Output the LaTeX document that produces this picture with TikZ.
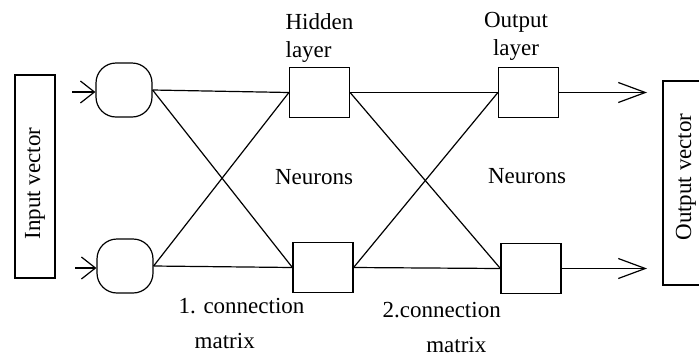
\documentclass[tikz,border=0pt]{standalone}
\usepackage{fontspec}
\setmainfont{Liberation Serif}
\usepackage{tikz}
\usetikzlibrary{arrows.meta}
\tikzstyle{neuron}=[
	 rectangle, draw,
	 minimum width=30pt, minimum height=25pt,
	 inner sep=0pt
    ]
\tikzstyle{inp}=[
	 rectangle, draw, rounded corners=10pt,
	 minimum width=28pt, minimum height=27pt
    ]
\tikzstyle{vec}=[rectangle, draw, rotate=90, inner sep=0pt, font=\fontsize{11.5}{14}\selectfont]
\tikzstyle{lbl}=[inner sep=0pt, font=\fontsize{11.5}{14}\selectfont]
\tikzstyle{inarr}=[-{Straight Barb[length=7pt,width=11pt]}]
\tikzstyle{outarr}=[-{Straight Barb[length=13.5pt,width=10pt]}]
\newcommand{\pEW}[2]{\draw (#1.east) -- (#2.west)}

\begin{document}
\begin{tikzpicture}[x=0.5pt,y=-0.5pt,line width=0.6pt]

\clip (0,0) rectangle (699,354);

\node[vec,minimum width=101.5pt,minimum height=20pt] (IV) at (35,176.5) {Input vector\hspace*{7pt}};
\node[vec,minimum width=102pt,minimum height=23pt] (OV) at (686,183) {\hspace*{6pt}Output vector};

\node[inp] (I1) at (124,90) {};
\node[inp] (I2) at (125,266) {};

\node[neuron] (H1) at (319.5,92.5) {};
\node[neuron] (H2) at (323,267.5) {};

\node[neuron] (O1) at (528.5,92.5) {};
\node[neuron] (O2) at (531,268.5) {};

\coordinate (a1) at (72,92);
\coordinate (a2) at (75,268);
\coordinate (b1) at (647,92.5);
\coordinate (b2) at (647,267);

\node[lbl,align=left,anchor=north west] (HL) at (285,13) {Hidden\\layer};
\node[lbl,align=center,anchor=north] (OL) at (516,12) {Output\\layer};
\node[lbl] (N1) at (314,177) {Neurons};
\node[lbl] (N2) at (527,176) {Neurons};
\node[lbl,align=left,anchor=west] (C1) at (178,323) {1. connection\\[3.5pt]\hspace*{0.7em}matrix};
\node[lbl,align=left,anchor=west] (C2) at (382,327) {2.connection\\[3.5pt]\hspace*{1.9em}matrix};

\draw[inarr] (a1) -- (a1 -| I1.west);
\draw[inarr] (a2) -- (a2 -| I2.west);

\pEW{I1}{H1};
\pEW{I1}{H2};
\pEW{I2}{H1};
\pEW{I2}{H2};

\pEW{H1}{O1};
\pEW{H1}{O2};
\pEW{H2}{O1};
\pEW{H2}{O2};

\draw[outarr] (O1.east) -- (O1.east -| b1);
\draw[outarr] (O2.east) -- (O2.east -| b2);

\end{tikzpicture}
\end{document}
